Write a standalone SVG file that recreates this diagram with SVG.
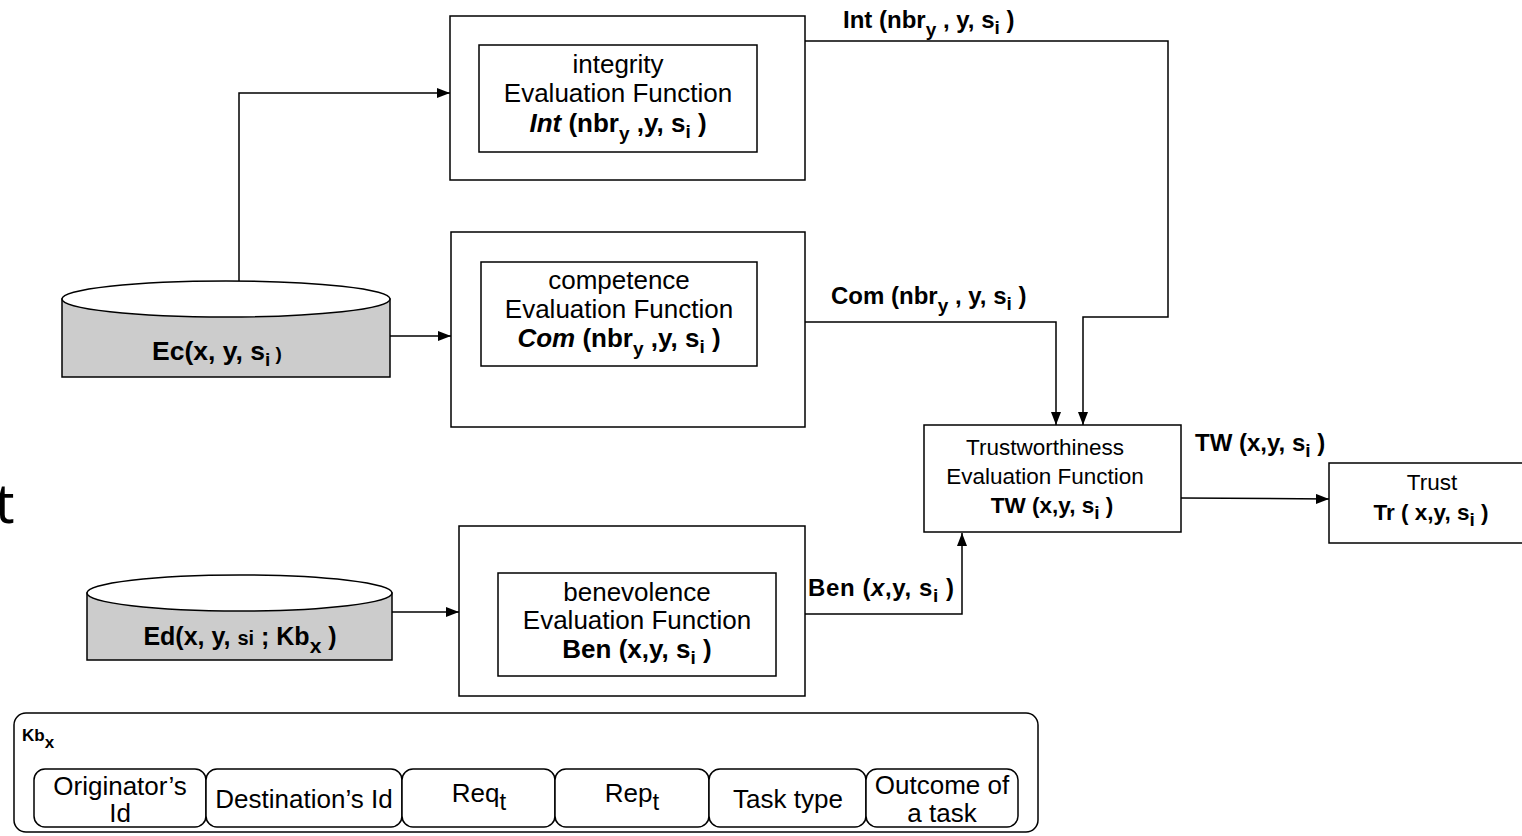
<svg xmlns="http://www.w3.org/2000/svg" width="1522" height="836" viewBox="0 0 1522 836">
  <defs>
    <marker id="arrow" viewBox="0 0 13 10" refX="13" refY="5" markerWidth="13" markerHeight="10" markerUnits="userSpaceOnUse" orient="auto">
      <path d="M0,0 L13,5 L0,10 Z" fill="#000"/>
    </marker>
    <style>
      .box { fill: #fff; stroke: #000; stroke-width: 1.5; }
      .db-body { fill: #cccccc; stroke: #000; stroke-width: 1.5; }
      .db-top { fill: #fff; stroke: #000; stroke-width: 1.5; }
      .edge { fill: none; stroke: #000; stroke-width: 1.5; marker-end: url(#arrow); }
      text { font-family: "Liberation Sans", Arial, Helvetica, sans-serif; fill: #000; }
      .t { font-size: 26px; text-anchor: middle; }
      .ts { font-size: 22.5px; text-anchor: middle; }
      .b { font-weight: bold; }
      .lbl { font-size: 24px; font-weight: bold; }
      .sub { font-size: 19px; }
    </style>
  </defs>

  <rect width="1522" height="836" fill="#fff"/>

  <!-- glyph at the left margin -->
  <text x="-5" y="523" style="font-family: 'Noto Sans', 'DejaVu Sans', sans-serif; font-size: 54px;">t</text>

  <!-- connectors -->
  <g id="connectors">
    <path class="edge" d="M239,281 L239,93 L450,93"/>
    <path class="edge" d="M390,336 L451,336"/>
    <path class="edge" d="M392,612 L459,612"/>
    <path class="edge" d="M805,41 L1168,41 L1168,317 L1083,317 L1083,425"/>
    <path class="edge" d="M805,322 L1056,322 L1056,425"/>
    <path class="edge" d="M805,614 L962,614 L962,533"/>
    <path class="edge" d="M1181,498 L1329,499"/>
    <text class="lbl" x="843" y="28">Int (nbr<tspan class="sub" dy="8">y</tspan><tspan dy="-8"> , y, s</tspan><tspan class="sub" dy="6">i</tspan><tspan dy="-6"> )</tspan></text>
    <text class="lbl" x="831" y="304">Com (nbr<tspan class="sub" dy="8">y</tspan><tspan dy="-8"> , y, s</tspan><tspan class="sub" dy="6">i</tspan><tspan dy="-6"> )</tspan></text>
    <text class="lbl" x="1195" y="451">TW (x,y, s<tspan class="sub" dy="6">i</tspan><tspan dy="-6"> )</tspan></text>
    <text class="lbl" x="808" y="596" letter-spacing="0.6">Ben (<tspan font-style="italic">x</tspan>,y, s<tspan class="sub" dy="6">i</tspan><tspan dy="-6"> )</tspan></text>
  </g>

  <!-- Ec data store -->
  <g id="ec-store">
    <rect class="db-body" x="62" y="299" width="328" height="78"/>
    <ellipse class="db-top" cx="226" cy="299" rx="164" ry="18"/>
    <text class="b" x="217" y="360" text-anchor="middle" font-size="26.5">Ec(x, y, s<tspan font-size="19" dy="6">i</tspan><tspan font-size="19" dy="-6"> )</tspan></text>
  </g>

  <!-- Ed data store -->
  <g id="ed-store">
    <rect class="db-body" x="87" y="593" width="305" height="67"/>
    <ellipse class="db-top" cx="239.5" cy="593" rx="152.5" ry="18"/>
    <text class="b" x="240" y="645" text-anchor="middle" font-size="25">Ed(x, y, <tspan font-size="20">si</tspan> ; Kb<tspan font-size="21" dy="8">x</tspan><tspan dy="-8"> )</tspan></text>
  </g>

  <!-- integrity -->
  <g id="integrity">
    <rect class="box" x="450" y="16" width="355" height="164"/>
    <rect class="box" x="479" y="45" width="278" height="107"/>
    <text class="t" x="618" y="73">integrity</text>
    <text class="t" x="618" y="102">Evaluation Function</text>
    <text class="t b" x="618" y="132" font-size="24"><tspan font-style="italic">Int</tspan> (nbr<tspan class="sub" dy="8">y</tspan><tspan dy="-8"> ,y, s</tspan><tspan class="sub" dy="6">i</tspan><tspan dy="-6"> )</tspan></text>
  </g>

  <!-- competence -->
  <g id="competence">
    <rect class="box" x="451" y="232" width="354" height="195"/>
    <rect class="box" x="481" y="262" width="276" height="104"/>
    <text class="t" x="619" y="289">competence</text>
    <text class="t" x="619" y="318">Evaluation Function</text>
    <text class="t b" x="619" y="347" font-size="24"><tspan font-style="italic">Com</tspan> (nbr<tspan class="sub" dy="8">y</tspan><tspan dy="-8"> ,y, s</tspan><tspan class="sub" dy="6">i</tspan><tspan dy="-6"> )</tspan></text>
  </g>

  <!-- benevolence -->
  <g id="benevolence">
    <rect class="box" x="459" y="526" width="346" height="170"/>
    <rect class="box" x="498" y="573" width="278" height="103"/>
    <text class="t" x="637" y="601">benevolence</text>
    <text class="t" x="637" y="629">Evaluation Function</text>
    <text class="t b" x="637" y="658" font-size="24">Ben (x,y, s<tspan class="sub" dy="6">i</tspan><tspan dy="-6"> )</tspan></text>
  </g>

  <!-- trustworthiness -->
  <g id="trustworthiness">
    <rect class="box" x="924" y="425" width="257" height="107"/>
    <text class="ts" x="1045" y="455">Trustworthiness</text>
    <text class="ts" x="1045" y="484">Evaluation Function</text>
    <text class="ts b" x="1052" y="513">TW (x,y, s<tspan class="sub" dy="6">i</tspan><tspan dy="-6"> )</tspan></text>
  </g>

  <!-- trust -->
  <g id="trust">
    <rect class="box" x="1329" y="463" width="200" height="80"/>
    <text class="ts" x="1432" y="490">Trust</text>
    <text class="ts b" x="1431" y="520">Tr ( x,y, s<tspan class="sub" dy="6">i</tspan><tspan dy="-6"> )</tspan></text>
  </g>

  <!-- knowledge base record -->
  <g id="kb">
    <rect class="box" x="14" y="713" width="1024" height="119" rx="12"/>
    <text class="b" x="22" y="741" font-size="17">Kb<tspan font-size="17" dy="7">x</tspan></text>
    <rect class="box" x="34" y="769" width="172" height="58" rx="11"/>
    <rect class="box" x="206" y="769" width="196" height="58" rx="11"/>
    <rect class="box" x="402" y="769" width="153" height="58" rx="11"/>
    <rect class="box" x="555" y="769" width="154" height="58" rx="11"/>
    <rect class="box" x="709" y="769" width="157" height="58" rx="11"/>
    <rect class="box" x="866" y="769" width="152" height="58" rx="11"/>
    <text class="t" x="120" y="795">Originator’s</text>
    <text class="t" x="120" y="822">Id</text>
    <text class="t" x="304" y="808">Destination’s Id</text>
    <text class="t" x="479" y="802">Req<tspan font-size="24" dy="8">t</tspan></text>
    <text class="t" x="632" y="802">Rep<tspan font-size="24" dy="8">t</tspan></text>
    <text class="t" x="788" y="808">Task type</text>
    <text class="t" x="942" y="794">Outcome of</text>
    <text class="t" x="942" y="822">a task</text>
  </g>
</svg>
